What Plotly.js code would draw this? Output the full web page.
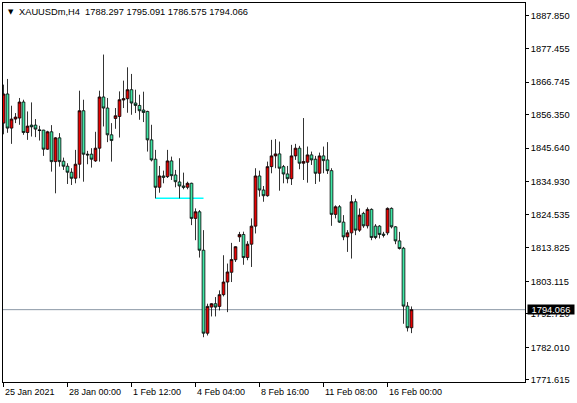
<!DOCTYPE html>
<html>
<head>
<meta charset="utf-8">
<script src="https://cdn.plot.ly/plotly-3.0.1.min.js"></script>
<style>
  html, body { margin: 0; padding: 0; background: #ffffff; }
  #chart { width: 577px; height: 403px; }
</style>
</head>
<body>
<div id="chart"></div>
<script>
// XAUUSDm H4 bars (bar index 0 = leftmost candle)
var opens = [
  1853.64, 1862.94, 1852.04, 1854.93, 1855.25, 1860.37, 1850.63, 1853.00, 1853.00, 1851.50,
  1851.40, 1845.31, 1850.86, 1841.34, 1848.93, 1841.47, 1839.87, 1837.95, 1836.02, 1840.51,
  1857.59, 1843.71, 1843.71, 1841.57, 1845.63, 1861.98, 1858.45, 1849.90, 1855.12, 1855.76,
  1861.01, 1861.43, 1864.31, 1860.05, 1859.28, 1857.81, 1857.36, 1848.29, 1842.11, 1833.14,
  1836.76, 1836.54, 1841.57, 1837.08, 1834.84, 1833.56, 1833.14, 1834.42, 1823.21, 1825.32,
  1813.05, 1786.55, 1794.88, 1795.97, 1795.11, 1798.86, 1802.89, 1806.00, 1810.01, 1817.31,
  1818.08, 1810.71, 1814.97, 1820.74, 1836.76, 1832.27, 1830.45, 1839.74, 1843.17, 1843.81,
  1839.74, 1837.40, 1835.89, 1843.17, 1845.63, 1840.83, 1841.15, 1843.49, 1842.11, 1837.62,
  1843.17, 1841.89, 1838.46, 1824.49, 1826.92, 1822.02, 1817.31, 1818.59, 1828.53, 1819.46,
  1824.81, 1820.84, 1826.09, 1820.74, 1820.74, 1818.18, 1818.59, 1826.41, 1820.52, 1816.03,
  1813.69, 1795.20, 1788.297
];
var highs = [
  1865.92, 1867.74, 1859.19, 1856.85, 1861.66, 1861.11, 1857.36, 1860.25, 1854.93, 1852.78,
  1851.50, 1851.18, 1853.00, 1849.16, 1850.44, 1842.62, 1840.83, 1839.23, 1845.09, 1863.99,
  1861.11, 1844.77, 1845.63, 1850.86, 1863.99, 1875.53, 1861.66, 1853.64, 1858.45, 1863.77,
  1867.20, 1871.46, 1869.34, 1864.31, 1862.71, 1863.67, 1857.59, 1853.10, 1845.09, 1839.96,
  1838.46, 1845.09, 1842.94, 1838.68, 1842.43, 1837.82, 1834.93, 1834.61, 1826.41, 1825.87,
  1819.46, 1795.97, 1796.16, 1798.09, 1800.23, 1811.45, 1808.79, 1815.39, 1814.33, 1818.91,
  1818.98, 1815.93, 1823.21, 1839.23, 1838.46, 1833.56, 1841.34, 1848.29, 1848.52, 1847.75,
  1840.28, 1839.96, 1846.69, 1847.01, 1846.37, 1855.25, 1846.15, 1844.55, 1843.17, 1844.22,
  1846.15, 1847.56, 1839.23, 1827.37, 1827.47, 1824.26, 1819.46, 1830.67, 1829.49, 1826.41,
  1825.32, 1826.73, 1826.41, 1821.38, 1821.06, 1818.91, 1826.73, 1826.73, 1820.74, 1818.91,
  1814.11, 1796.49, 1795.091
];
var lows = [
  1850.06, 1850.54, 1847.01, 1853.64, 1853.10, 1849.90, 1848.29, 1849.35, 1849.16, 1848.07,
  1843.17, 1845.09, 1838.14, 1831.22, 1839.74, 1838.68, 1834.20, 1833.88, 1834.42, 1836.02,
  1834.93, 1840.51, 1839.42, 1841.25, 1841.34, 1852.56, 1847.56, 1841.34, 1851.82, 1849.03,
  1858.45, 1856.94, 1856.30, 1856.85, 1854.70, 1853.97, 1844.55, 1841.41, 1829.61, 1831.41,
  1834.42, 1836.12, 1835.48, 1833.14, 1829.61, 1832.50, 1832.50, 1821.06, 1816.25, 1810.71,
  1785.27, 1785.82, 1791.90, 1791.90, 1793.83, 1798.31, 1793.28, 1802.89, 1809.30, 1815.71,
  1808.40, 1809.85, 1807.70, 1818.40, 1830.13, 1828.53, 1830.13, 1837.62, 1839.23, 1832.05,
  1834.42, 1834.42, 1833.88, 1841.89, 1838.91, 1835.48, 1834.61, 1840.28, 1834.20, 1834.93,
  1837.62, 1837.40, 1820.84, 1823.21, 1821.80, 1816.25, 1812.51, 1810.39, 1817.86, 1818.91,
  1820.20, 1820.00, 1816.25, 1816.57, 1816.80, 1817.12, 1817.86, 1820.00, 1814.97, 1813.27,
  1789.56, 1787.10, 1786.575
];
var closes = [
  1862.94, 1852.04, 1854.93, 1855.57, 1860.37, 1850.63, 1852.68, 1852.46, 1851.72, 1851.27,
  1845.31, 1850.86, 1841.34, 1848.93, 1841.34, 1839.87, 1837.95, 1836.02, 1840.51, 1857.59,
  1843.71, 1843.49, 1842.11, 1845.63, 1861.98, 1858.45, 1849.90, 1848.07, 1855.98, 1861.11,
  1861.43, 1864.31, 1860.05, 1859.28, 1857.59, 1857.04, 1848.29, 1841.89, 1833.14, 1836.76,
  1836.34, 1841.57, 1836.86, 1834.93, 1833.56, 1833.14, 1834.42, 1823.21, 1825.32, 1813.05,
  1786.55, 1795.11, 1795.97, 1794.88, 1798.86, 1802.89, 1806.10, 1810.07, 1814.17, 1818.08,
  1810.71, 1814.97, 1820.74, 1836.76, 1832.27, 1830.45, 1839.74, 1843.17, 1843.81, 1839.23,
  1837.40, 1835.89, 1843.17, 1845.63, 1840.83, 1841.34, 1843.49, 1841.89, 1837.62, 1843.17,
  1841.66, 1838.46, 1824.49, 1826.92, 1822.02, 1817.31, 1818.59, 1828.53, 1819.46, 1824.26,
  1820.84, 1826.09, 1817.12, 1817.12, 1818.08, 1817.86, 1826.41, 1820.52, 1816.03, 1813.59,
  1795.20, 1788.297, 1794.066
];

// time axis labels and the bar they sit on
var labelBars = [0, 16, 32, 48, 64, 80, 96];
var labelText = ["25 Jan 2021", "28 Jan 00:00", "1 Feb 12:00", "4 Feb 04:00",
                 "8 Feb 16:00", "11 Feb 08:00", "16 Feb 00:00"];

// price scale labels
var priceTicks = [1887.850, 1877.455, 1866.745, 1856.350, 1845.640, 1834.930,
                  1824.535, 1813.825, 1803.115, 1792.720, 1782.010, 1771.615];

var symbol = "XAUUSDm,H4";
var lastBid = 1794.066;
var levelPrice = 1829.63, levelFrom = 38, levelTo = 50;   // cyan level

var bars = opens.map(function(o, i){ return i; });
var n = opens.length;

// 522px plot width / 130.5 bars = 4px per bar
var trace = {
    type: 'candlestick',
    x: bars,
    open: opens,
    high: highs,
    low: lows,
    close: closes,
    whiskerwidth: 0,
    increasing: { line: { color: '#000000', width: 0.8 }, fillcolor: '#e80000' },
    decreasing: { line: { color: '#000000', width: 0.8 }, fillcolor: '#3ee8a6' },
    hoverinfo: 'none'
};

var annotations = [];
// header line: triangle + symbol + OHLC of last bar
annotations.push({
    xref: 'paper', yref: 'paper', x: 0, y: 1, xshift: 3, yshift: -3,
    xanchor: 'left', yanchor: 'top', showarrow: false,
    text: '▼', font: { size: 7, color: '#000000', family: 'DejaVu Sans' }
});
annotations.push({
    xref: 'paper', yref: 'paper', x: 0, y: 1, xshift: 14, yshift: -2,
    xanchor: 'left', yanchor: 'top', showarrow: false,
    text: symbol + '\u00a0\u00a0' + [opens[n-1], highs[n-1], lows[n-1], closes[n-1]]
          .map(function(v){ return v.toFixed(3); }).join(' '),
    font: { size: 9.3, color: '#000000', family: 'Liberation Sans' }
});
labelBars.forEach(function(b, i){
    annotations.push({
        xref: 'x', yref: 'paper', x: b, y: 0, yshift: -3, xshift: -1,
        xanchor: 'left', yanchor: 'top', showarrow: false,
        text: labelText[i], font: { size: 9, color: '#000000', family: 'Liberation Sans' }
    });
});
// last price box on the scale
annotations.push({
    xref: 'paper', yref: 'y', x: 1, y: lastBid, xshift: 2,
    xanchor: 'left', yanchor: 'middle', showarrow: false,
    text: lastBid.toFixed(3), bgcolor: '#000000', borderpad: 0, width: 46, height: 9,
    font: { size: 9.3, color: '#ffffff', family: 'Liberation Sans' }
});

var layout = {
    width: 577,
    height: 403,
    margin: { l: 3, r: 52, t: 3, b: 21, pad: 0 },
    paper_bgcolor: '#ffffff',
    plot_bgcolor: '#ffffff',
    showlegend: false,
    hovermode: false,
    boxgap: 0.32,
    boxgroupgap: 0,
    font: { family: 'Liberation Sans', size: 9.3, color: '#000000' },
    xaxis: {
        range: [-0.125, 130.375],
        rangeslider: { visible: false },
        showgrid: false, zeroline: false,
        showline: true, mirror: true, linecolor: '#000000', linewidth: 1,
        tickmode: 'array', tickvals: labelBars,
        ticks: 'outside', ticklen: 4, tickcolor: '#000000', tickwidth: 1,
        showticklabels: false,
        fixedrange: true
    },
    yaxis: {
        side: 'right',
        range: [1770.97, 1891.99],
        showgrid: false, zeroline: false,
        showline: true, mirror: true, linecolor: '#000000', linewidth: 1,
        tickmode: 'array', tickvals: priceTicks,
        ticktext: priceTicks.map(function(v){ return v.toFixed(3); }),
        ticks: 'outside', ticklen: 3, tickcolor: '#000000', tickwidth: 1,
        tickfont: { size: 9.3, color: '#000000' },
        fixedrange: true
    },
    shapes: [
        { type: 'line', xref: 'paper', yref: 'y', x0: 0, x1: 1, y0: lastBid, y1: lastBid,
          line: { color: '#8a97a5', width: 1 }, layer: 'below' },
        { type: 'line', xref: 'x', yref: 'y', x0: levelFrom, x1: levelTo, y0: levelPrice, y1: levelPrice,
          line: { color: '#00ffff', width: 1.5 }, layer: 'below' }
    ],
    annotations: annotations
};

Plotly.newPlot('chart', [trace], layout, { staticPlot: true, displayModeBar: false });
</script>
</body>
</html>
